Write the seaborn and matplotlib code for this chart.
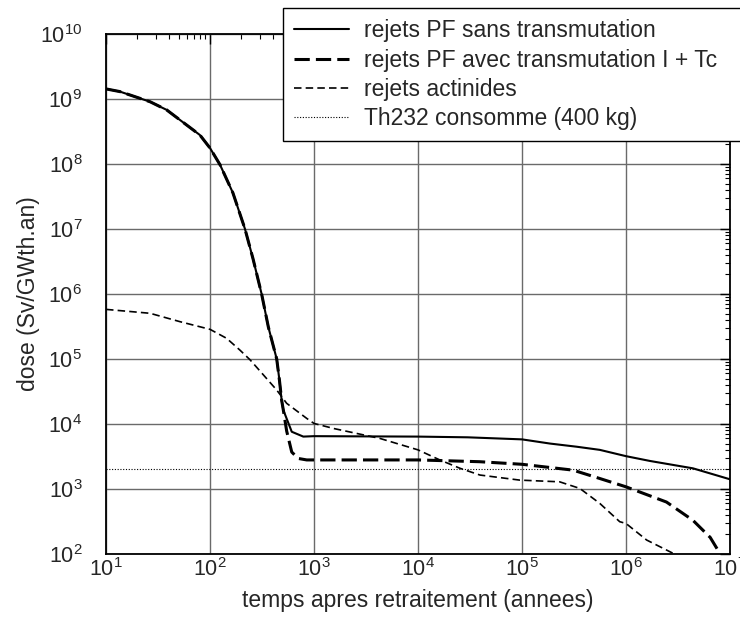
import numpy as np
import pandas as pd
import matplotlib
matplotlib.use("Agg")
import matplotlib.pyplot as plt
import matplotlib.ticker as mticker
import seaborn as sns

# PF sans transmutation (solid)
annees_sans = [10, 13.6, 26.5, 38.3, 51.5, 80, 100, 125, 166, 217, 259, 314, 364, 438, 465, 489, 507, 611, 789,
               1000, 3000, 1e4, 3e4, 1e5, 1.86e5, 3.36e5, 5.6e5, 1e6, 1.7e6, 4.4e6, 1e7]
dose_sans = [1.43e9, 1.3e9, 9.08e8, 6.8e8, 4.75e8, 2.79e8, 1.76e8, 9.7e7, 3.6e7, 1.0e7, 3.5e6, 9.9e5, 3.1e5, 1.0e5, 4.75e4, 2.3e4, 1.64e4, 7.6e3, 6.4e3,
             6.5e3, 6.45e3, 6.4e3, 6.24e3, 5.8e3, 5.0e3, 4.47e3, 4.0e3, 3.2e3, 2.7e3, 2.08e3, 1.41e3]

# PF avec transmutation I + Tc (thick dashed)
annees_avec = [10, 13.6, 26.5, 38.3, 51.5, 80, 100, 125, 166, 217, 259, 314, 364, 438, 465, 489, 507, 546, 611, 706, 851,
               1e4, 3.9e4, 1e5, 3.1e5, 5.6e5, 1e6, 2.45e6, 4.4e6, 6.45e6, 8e6]
dose_avec = [1.43e9, 1.3e9, 9.08e8, 6.8e8, 4.75e8, 2.79e8, 1.76e8, 9.7e7, 3.6e7, 1.0e7, 3.5e6, 9.9e5, 3.1e5, 1.0e5, 4.75e4, 2.3e4, 1.64e4, 7.8e3, 3.7e3, 2.95e3, 2.8e3,
             2.8e3, 2.63e3, 2.4e3, 1.95e3, 1.45e3, 1.08e3, 630, 330, 180, 102]

# actinides (thin dashed)
annees_act = [10, 26.5, 51.5, 100, 144.5, 194, 243, 326, 438, 546, 851, 1000, 1.56e3, 4.3e3, 1e4, 1.62e4,
              2.54e4, 3.94e4, 9.5e4, 2.3e5, 3.6e5, 5.6e5, 8.7e5, 1e6, 1.58e6, 2.85e6]
dose_act = [5.8e5, 5.05e5, 3.75e5, 2.86e5, 2.08e5, 1.37e5, 9.7e4, 5.7e4, 3.33e4, 2.08e4, 1.22e4, 1.02e4, 8.5e3, 6.0e3, 4.0e3, 2.8e3,
            2.08e3, 1.64e3, 1.37e3, 1.29e3, 1.02e3, 600, 314, 295, 164, 102]

# Th232 consomme (400 kg)
th232_dose = 2.0e3

labels = ["rejets PF sans transmutation", "rejets PF avec transmutation I + Tc",
          "rejets actinides", "Th232 consomme (400 kg)"]

sns.set_theme(style="white")
plt.rcParams["font.family"] = ["Liberation Sans", "DejaVu Sans"]
plt.rcParams["mathtext.fontset"] = "custom"
plt.rcParams["mathtext.rm"] = "Liberation Sans"
plt.rcParams["mathtext.it"] = "Liberation Sans:italic"
plt.rcParams["mathtext.bf"] = "Liberation Sans:bold"

fig = plt.figure(figsize=(7.4, 6.21), dpi=100)
ax = fig.add_axes([106/740, 1-554/621, 624/740, 520/621])
ax.set_xscale("log")
ax.set_yscale("log")

df_sans = pd.DataFrame({"t": annees_sans, "dose": dose_sans})
df_avec = pd.DataFrame({"t": annees_avec, "dose": dose_avec})
df_act = pd.DataFrame({"t": annees_act, "dose": dose_act})

sns.lineplot(data=df_sans, x="t", y="dose", ax=ax, color="black", lw=1.5, label=labels[0], legend=False)
sns.lineplot(data=df_avec, x="t", y="dose", ax=ax, color="black", lw=2.2, linestyle=(0, (5, 2)), label=labels[1], legend=False)
sns.lineplot(data=df_act, x="t", y="dose", ax=ax, color="black", lw=1.2, linestyle=(0, (4.5, 2.5)), label=labels[2], legend=False)
ax.axhline(th232_dose, color="black", lw=0.8, linestyle=(0, (1, 1.5)), label=labels[3])

ax.set_xlim(10, 1e7)
ax.set_ylim(1e2, 1e10)
ax.xaxis.set_major_locator(mticker.LogLocator(base=10, numticks=20))
ax.yaxis.set_major_locator(mticker.LogLocator(base=10, numticks=20))
ax.xaxis.set_minor_locator(mticker.LogLocator(base=10, subs=np.arange(2, 10), numticks=100))
ax.yaxis.set_minor_locator(mticker.LogLocator(base=10, subs=np.arange(2, 10), numticks=100))
ax.xaxis.set_minor_formatter(mticker.NullFormatter())
ax.yaxis.set_minor_formatter(mticker.NullFormatter())

ax.grid(True, which="major", color="#6a6a6a", lw=1.0)
ax.set_axisbelow(True)
for s in ax.spines.values():
    s.set_color("black")
    s.set_linewidth(1.3)

ax.tick_params(which="both", direction="in", top=True, right=True, color="black", labelsize=15.5)
ax.tick_params(which="major", length=7, width=1)
ax.tick_params(which="minor", length=3.5, width=0.8)
ax.tick_params(axis="y", pad=17)
ax.tick_params(axis="x", pad=3)

ax.set_xlabel("temps apres retraitement (annees)", fontsize=16.5)
ax.set_ylabel("dose (Sv/GWth.an)", fontsize=16.5)
ax.xaxis.set_label_coords(0.5, -0.068)
ax.yaxis.set_label_coords(-0.105, 0.5)

# legend box runs past the right edge, like the original
leg = ax.legend(loc="upper left", bbox_to_anchor=(283/740, 1-8/621 - 0.3, 0.78, 0.3), bbox_transform=fig.transFigure,
                mode="expand", borderaxespad=0, fontsize=16.5, handlelength=2.4, handletextpad=0.65,
                labelspacing=0.27, borderpad=0.5, fancybox=False, framealpha=1, edgecolor="black")
leg.get_frame().set_linewidth(1.0)
leg.set_zorder(10)

fig.savefig("out.png", dpi=100)
